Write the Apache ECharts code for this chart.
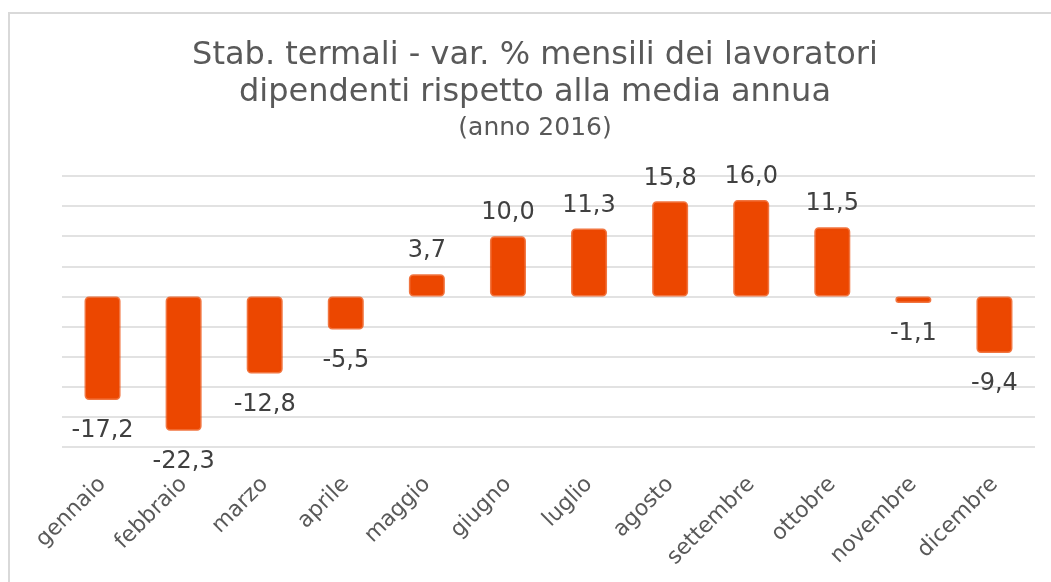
<!DOCTYPE html>
<html>
<head>
<meta charset="utf-8">
<script src="https://cdn.jsdelivr.net/npm/echarts@6/dist/echarts.min.js"></script>
<style>
html,body{margin:0;padding:0;background:#fff;}
#chart{width:1051px;height:582px;}
</style>
</head>
<body>
<div id="chart"></div>
<script>
const categories = ['gennaio','febbraio','marzo','aprile','maggio','giugno','luglio','agosto','settembre','ottobre','novembre','dicembre'];
const values = [-17.2, -22.3, -12.8, -5.5, 3.7, 10.0, 11.3, 15.8, 16.0, 11.5, -1.1, -9.4];
const titleLines = ['Stab. termali - var. % mensili dei lavoratori', 'dipendenti rispetto alla media annua', '(anno 2016)'];

const chart = echarts.init(document.getElementById('chart'), null, {renderer: 'canvas'});
const FONT = 'DejaVu Sans';
const titleStyle = (size) => ({fontFamily: FONT, fontSize: size, fontWeight: 'normal', color: '#595959'});
chart.setOption({
  backgroundColor: '#ffffff',
  animation: false,
  graphic: [{
    type: 'rect', left: 8, top: 12, z: -10,
    shape: {width: 1100, height: 650},
    style: {fill: '#ffffff', stroke: '#d9d9d9', lineWidth: 2}
  }],
  title: [
    {text: titleLines[0], left: 535, textAlign: 'center', top: 40, padding: 0, textStyle: titleStyle(32)},
    {text: titleLines[1], left: 535, textAlign: 'center', top: 77, padding: 0, textStyle: titleStyle(32)},
    {text: titleLines[2], left: 535, textAlign: 'center', top: 116, padding: 0, textStyle: titleStyle(25)}
  ],
  grid: {left: 62, right: 16, top: 176, bottom: 135, containLabel: false},
  xAxis: {
    type: 'category', data: categories,
    axisLine: {show: false}, axisTick: {show: false},
    axisLabel: {rotate: 45, margin: 34, fontFamily: FONT, fontSize: 22, color: '#595959', interval: 0}
  },
  yAxis: {
    type: 'value', min: -25, max: 20, interval: 5,
    axisLabel: {show: false}, axisLine: {show: false}, axisTick: {show: false},
    splitLine: {lineStyle: {color: '#d9d9d9', width: 1.5}}
  },
  series: [{
    type: 'bar', barWidth: 36,
    data: values.map(v => ({
      value: v,
      label: {position: v >= 0 ? 'top' : 'bottom', distance: v >= 0 ? 11 : 19}
    })),
    itemStyle: {color: '#EC4700', borderColor: 'rgba(236,71,0,0.75)', borderWidth: 3, borderRadius: 3},
    label: {
      show: true, fontFamily: FONT, fontSize: 24, color: '#404040',
      formatter: p => p.value.toFixed(1).replace('.', ',')
    }
  }]
});
</script>
</body>
</html>
